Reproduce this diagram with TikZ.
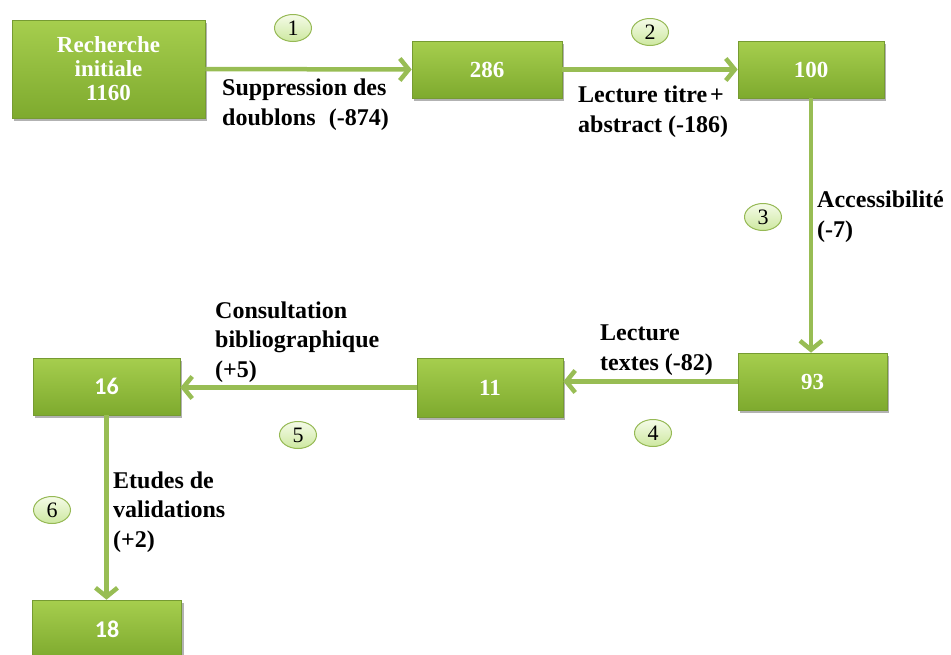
\documentclass[tikz,border=0pt]{standalone}
\usepackage{fontspec}
\setmainfont{Liberation Serif}
\newfontfamily\carl{Carlito}
\usetikzlibrary{arrows.meta,shapes.geometric,shadows}
\definecolor{boxtop}{RGB}{166,206,78}
\definecolor{boxbot}{RGB}{126,170,46}
\definecolor{boxedge}{RGB}{118,155,50}
\definecolor{arrowc}{RGB}{152,189,84}
\definecolor{circtop}{RGB}{245,251,232}
\definecolor{circbot}{RGB}{205,232,160}
\definecolor{circedge}{RGB}{150,185,85}
\begin{document}
\begin{tikzpicture}[x=1pt,y=-1pt,
  gbox/.style={rectangle, top color=boxtop, bottom color=boxbot, draw=boxedge, line width=0.6pt,
    text=white, font=\fontsize{23}{24}\selectfont\bfseries, align=center, inner sep=0pt,
    drop shadow={shadow xshift=2pt,shadow yshift=-3pt,fill=black,opacity=0.3}},
  lbl/.style={anchor=base west, align=left, inner sep=0pt, font=\fontsize{24}{29.5}\selectfont\bfseries},
  stepnum/.style={ellipse, minimum width=37pt, minimum height=27pt, inner sep=0pt,
    top color=circtop, bottom color=circbot, draw=circedge, line width=1pt,
    font=\fontsize{22}{22}\selectfont},
  flow/.style={draw=arrowc, line width=4.5pt, -{Straight Barb[length=9pt,width=22pt]}}]
\useasboundingbox (0,0) rectangle (951,654);

% boxes
\node[gbox, minimum width=193pt, minimum height=98pt] (rech) at (108.5,69) {Recherche\\initiale\\1160};
\node[gbox, minimum width=150pt, minimum height=57pt] (b286) at (487,69.5) {286};
\node[gbox, minimum width=146pt, minimum height=57pt] (b100) at (811,69.5) {100};
\node[gbox, minimum width=149pt, minimum height=57pt] (b93) at (812.5,381.5) {93};
\node[gbox, minimum width=146pt, minimum height=59pt] (b11) at (490,387.5) {11};
\node[gbox, minimum width=147pt, minimum height=57pt, font=\fontsize{24}{24}\selectfont\carl\bfseries] (b16) at (106.5,386.5) {16};
\node[gbox, minimum width=149pt, minimum height=58pt, font=\fontsize{24}{24}\selectfont\carl\bfseries] (b18) at (107,629) {18};

% connectors
\draw[flow] (rech.east) -- (b286.west);
\draw[flow] (b286.east) -- (b100.west);
\draw[flow] (b100.south) -- (b100.south |- b93.north);
\draw[flow] (b93.west) -- (b93.west -| b11.east);
\draw[flow] (b11.west) -- (b11.west -| b16.east);
\draw[flow] (b16.south) -- (b16.south |- b18.north);

% labels (anchored at the baseline of the last line)
\node[lbl] (l1) at (222,125) {Suppression des\\doublons\hspace{0.55em}(-874)};
\node[lbl] (l2) at (578,132) {Lecture titre\hspace{0.12em}+\\abstract (-186)};
\node[lbl] (l3) at (817,237) {Accessibilité\\(-7)};
\node[lbl] (l4) at (600,370) {Lecture\\textes (-82)};
\node[lbl] (l5) at (215,377) {Consultation\\bibliographique\\(+5)};
\node[lbl] (l6) at (113,547) {Etudes de\\validations\\(+2)};

% step numbers
\node[stepnum] (n1) at (293,28) {1};
\node[stepnum] (n2) at (650,32) {2};
\node[stepnum] (n3) at (763,217) {3};
\node[stepnum] (n4) at (653,433) {4};
\node[stepnum] (n5) at (298,435) {5};
\node[stepnum] (n6) at (52,510) {6};
\end{tikzpicture}
\end{document}
